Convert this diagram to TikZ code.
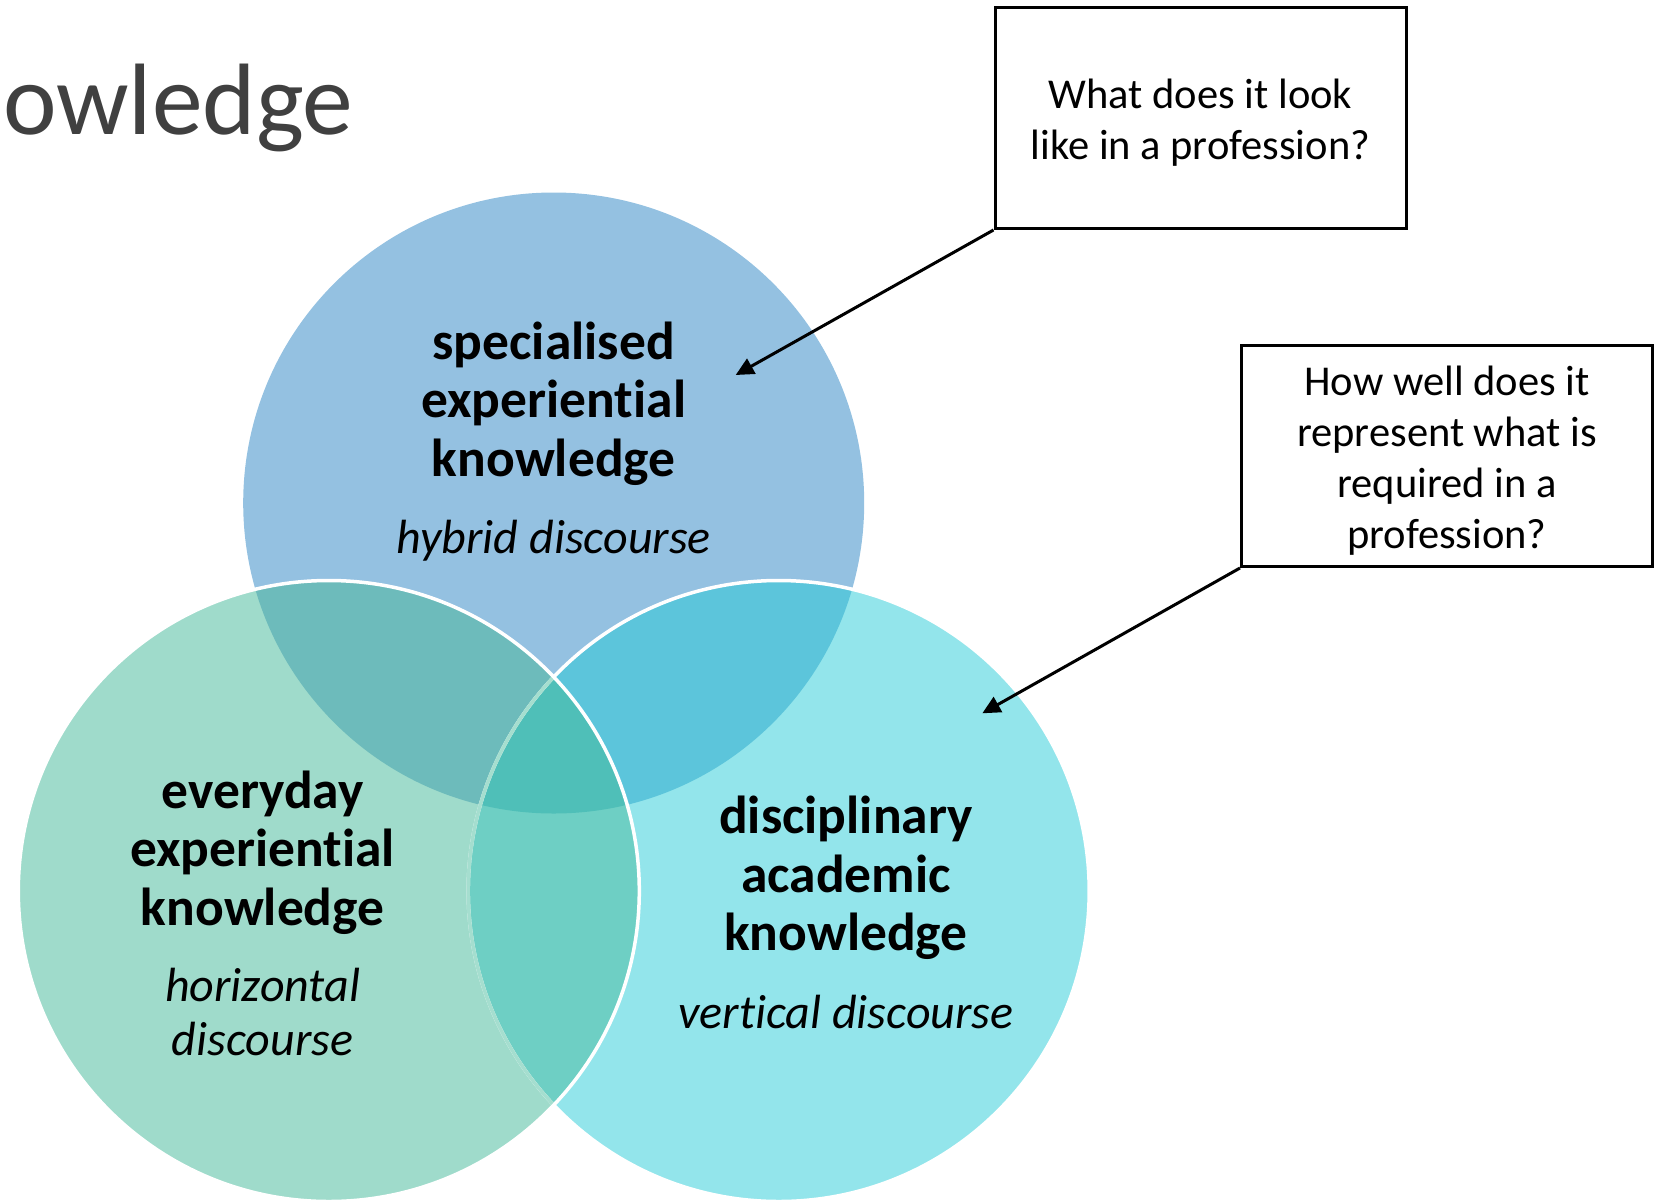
\documentclass[tikz,border=0pt]{standalone}
\usepackage{fontspec}
\setmainfont{Carlito}[Ligatures=NoCommon]
\usetikzlibrary{arrows.meta}

% region colours of the three-set Venn diagram
\definecolor{topC}{HTML}{94C1E1}
\definecolor{leftC}{HTML}{9FDBCB}
\definecolor{rightC}{HTML}{93E5EB}
\definecolor{topLeftC}{HTML}{6DBBBB}
\definecolor{topRightC}{HTML}{5CC5DB}
\definecolor{leftRightC}{HTML}{6ECFC4}
\definecolor{allC}{HTML}{4FBFB8}
\definecolor{hiddenEdge}{HTML}{A5DECF}
\definecolor{headGray}{HTML}{404040}

% the three circles
\newcommand\circTop{(553.7,503) circle[radius=310.5pt]}
\newcommand\circLeft{(328.8,891) circle[radius=310.5pt]}
\newcommand\circRight{(778.7,891) circle[radius=310.5pt]}

\begin{document}
\begin{tikzpicture}[x=1pt,y=-1pt,
  boldlbl/.style={font=\bfseries\fontsize{53.5}{58.5}\selectfont, align=center, inner sep=0pt},
  itlbl/.style={font=\itshape\fontsize{48}{54}\selectfont, align=center, inner sep=0pt},
  qtext/.style={align=center, font=\fontsize{42.5}{51}\selectfont, inner sep=0pt, yshift=-5pt},
  qbox/.style={draw=black, line width=3pt, fill=white, minimum width=411pt, minimum height=221pt, inner sep=0pt},
  pointer/.style={draw=black, line width=3pt, -{Triangle[length=18pt,width=17pt]}},
  rim/.style={line width=3.5pt}
]
\useasboundingbox (0,0) rectangle (1660,1203);

% heading, cut at the left edge
\node[font=\fontsize{101.5}{112}\selectfont, text=headGray, anchor=base west, inner sep=0pt]
  (heading) at (3,134) {owledge};

% plain circle fills
\fill[topC] \circTop;
\fill[rightC] \circRight;
\fill[leftC] \circLeft;

% pairwise overlaps
\begin{scope}
  \clip \circTop;
  \fill[topLeftC] \circLeft;
  \fill[topRightC] \circRight;
\end{scope}
\begin{scope}
  \clip \circLeft;
  \fill[leftRightC] \circRight;
\end{scope}
% centre overlap
\begin{scope}
  \clip \circTop;
  \clip \circLeft;
  \fill[allC] \circRight;
\end{scope}

% white rims; the right rim shows faintly under the left circle
\draw[rim, white] \circRight;
\begin{scope}
  \clip \circLeft;
  \draw[rim, hiddenEdge] \circRight;
\end{scope}
\draw[rim, white] \circLeft;

% circle labels
\node[boldlbl] (specName) at (553.7,403.6) {specialised\\experiential\\knowledge};
\node[itlbl] (specDisc) at (553.7,541) {hybrid discourse};
\node[boldlbl] (everyName) at (262.6,852.5) {everyday\\experiential\\knowledge};
\node[itlbl] (everyDisc) at (262.6,1011.5) {horizontal\\discourse};
\node[boldlbl] (discName) at (845.9,877.9) {disciplinary\\academic\\knowledge};
\node[itlbl] (discDisc) at (845.9,1012) {vertical discourse};

% question boxes
\node[qbox, label={[qtext]center:{What does it look\\like in a profession?}}]
  (lookQ) at (1200.5,118) {};
\node[qbox, label={[qtext]center:{How well does it\\represent what is\\required in a\\profession?}}]
  (wellQ) at (1447,456) {};

% pointers into the circles
\coordinate (lookTip) at (735.7,375);
\coordinate (wellTip) at (982.3,713.3);
\draw[pointer] (lookQ.south west) -- (lookTip);
\draw[pointer] (wellQ.south west) -- (wellTip);
\end{tikzpicture}
\end{document}
